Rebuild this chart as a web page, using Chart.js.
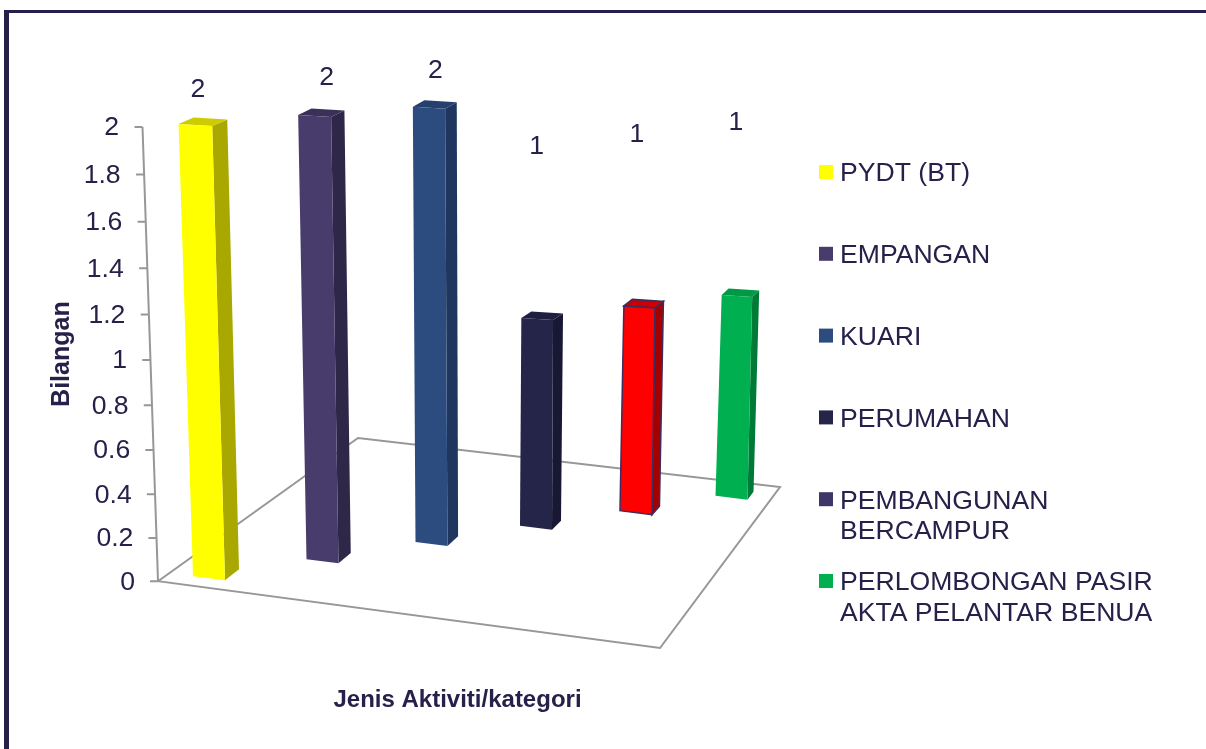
<!DOCTYPE html>
<html lang="en">
<head>
    <meta charset="UTF-8">
    <title>Jenis Aktiviti/kategori</title>
    <script src="https://cdnjs.cloudflare.com/ajax/libs/Chart.js/4.4.1/chart.umd.js"></script>
    <style>
        html, body { margin: 0; padding: 0; background: #fff; overflow: hidden; }
        #page { position: relative; width: 1206px; height: 749px; }
        #frame { position: absolute; left: 4px; top: 10px; right: 0; bottom: 0; border-left: 5px solid #24204a; border-top: 3px solid #24204a; }
        #chart-container { position: absolute; left: 0; top: 0; width: 1206px; height: 749px; }
    </style>
</head>
<body>
    <div id="page">
        <div id="frame"></div>
        <div id="chart-container"><canvas id="bars"></canvas></div>
    </div>

    <script>
        // values
        const categories = ['PYDT (BT)', 'EMPANGAN', 'KUARI', 'PERUMAHAN', 'PEMBANGUNAN BERCAMPUR', 'PERLOMBONGAN PASIR AKTA PELANTAR BENUA'];
        const values = [2, 2, 2, 1, 1, 1];
        // the 3D view lifts each bar off the zero line, so these are as drawn against the axis
        const barBottoms = [0.014, 0.092, 0.172, 0.247, 0.316, 0.384];
        const barTops = [2.008, 2.046, 2.08, 1.18, 1.233, 1.28];
        const yTicks = [0, 0.2, 0.4, 0.6, 0.8, 1, 1.2, 1.4, 1.6, 1.8, 2];

        const legendLines = [['PYDT (BT)'], ['EMPANGAN'], ['KUARI'], ['PERUMAHAN'], ['PEMBANGUNAN', 'BERCAMPUR'], ['PERLOMBONGAN PASIR', 'AKTA PELANTAR BENUA']];

        const frontColors = ['#ffff00', '#483c6c', '#2c4c80', '#25254a', '#ff0000', '#00b050'];
        const sideColors = ['#a8a800', '#2e2748', '#1f365e', '#181835', '#a50000', '#007a37'];
        const topColors = ['#cccc00', '#3a3058', '#253f6e', '#1f1f40', '#cc0000', '#009a45'];
        const legendColors = ['#ffff00', '#483c6c', '#2c4c80', '#25254a', '#3e3568', '#00b050'];

        const TEXT = '#25214a';
        const FLOOR = '#979797';
        const FONT = '"Liberation Sans", Arial, sans-serif';
        const SIZE = 26.6;

        // axis leans with the perspective of the original
        const axisX = v => 158 - 7.75 * v;
        const labelX = v => 135 - 8 * v;

        // y axis is slightly stretched towards the top
        class PerspectiveLinear extends Chart.LinearScale {
            getPixelForValue(v) {
                const t = v / 2;
                return this.bottom - this.height * (0.947 * t + 0.053 * t * t);
            }
            _computeLabelItems(area) {
                const items = super._computeLabelItems(area);
                items.forEach((item, i) => {
                    item.options.translation[0] = labelX(this.ticks[i].value);
                    item.options.translation[1] = this.getPixelForValue(this.ticks[i].value) + 1;
                });
                return items;
            }
        }
        PerspectiveLinear.id = 'perspectiveLinear';
        PerspectiveLinear.defaults = Chart.LinearScale.defaults;

        // categories get closer together going right
        class PerspectiveCategory extends Chart.CategoryScale {
            getPixelForValue(value) {
                const i = typeof value === 'number' ? value : this.parse(value);
                return 209 + 115.75 * i - 2.25 * i * i;
            }
        }
        PerspectiveCategory.id = 'perspectiveCategory';
        PerspectiveCategory.defaults = Chart.CategoryScale.defaults;

        Chart.register(PerspectiveLinear, PerspectiveCategory);

        function poly(ctx, pts, fill, stroke) {
            ctx.beginPath();
            pts.forEach((p, i) => i ? ctx.lineTo(p[0], p[1]) : ctx.moveTo(p[0], p[1]));
            ctx.closePath();
            ctx.fillStyle = fill;
            ctx.fill();
            if (stroke) {
                ctx.strokeStyle = stroke;
                ctx.lineWidth = 1.5;
                ctx.stroke();
            }
        }

        function barCorners(el) {
            const h = el.base - el.y;
            const lean = h * (el.x - 484) * 0.000109;
            const half = el.width / 2;
            const topHalf = half + (484 - el.x) * 0.003;
            const cx = el.x + lean;
            const dx = 15 - (el.x - 209) * 0.0153;
            const dyBottom = 11 - (el.x - 209) * 0.006;
            return {
                cx,
                tl: [cx - topHalf, el.y - 1],
                tr: [cx + topHalf, el.y + 1],
                bl: [el.x - half, el.base - 2],
                br: [el.x + half, el.base + 2],
                d: [dx, -6.5],
                dBottom: [dx - 1, -dyBottom]
            };
        }

        const add = (p, d) => [p[0] + d[0], p[1] + d[1]];

        // hand placed in the original, relative to the top of each bar
        const valueLabelDx = [2.5, 12, 6.5, -0.5, -2.5, -1];
        const valueLabelDy = [-35, -38, -37, -172, -172, -173];

        const scene3d = {
            id: 'scene3d',
            beforeDatasetsDraw(chart) {
                // floor and leaning axis
                const ctx = chart.ctx;
                const y = chart.scales.y;
                const zero = y.getPixelForValue(0);
                ctx.save();
                ctx.strokeStyle = FLOOR;
                ctx.lineWidth = 2;
                ctx.beginPath();
                ctx.moveTo(axisX(0), zero);
                ctx.lineTo(358, 438);
                ctx.lineTo(780, 487);
                ctx.lineTo(660, 648);
                ctx.closePath();
                ctx.stroke();
                ctx.beginPath();
                ctx.moveTo(axisX(0), zero);
                ctx.lineTo(axisX(2), y.getPixelForValue(2));
                yTicks.forEach(v => {
                    const py = y.getPixelForValue(v);
                    ctx.moveTo(axisX(v), py);
                    ctx.lineTo(axisX(v) - 8, py);
                });
                ctx.stroke();
                ctx.restore();
            },
            beforeDatasetDraw(chart, args) {
                const ctx = chart.ctx;
                ctx.save();
                args.meta.data.forEach((el, i) => {
                    const c = barCorners(el);
                    const outline = i === 4 ? '#3f2c5e' : null;
                    poly(ctx, [c.tr, add(c.tr, c.d), add(c.br, c.dBottom), c.br], sideColors[i], outline);
                    poly(ctx, [c.tl, add(c.tl, c.d), add(c.tr, c.d), c.tr], topColors[i], outline);
                    poly(ctx, [c.tl, c.tr, c.br, c.bl], frontColors[i], outline);
                });
                ctx.restore();
                return false;
            },
            afterDatasetsDraw(chart) {
                const ctx = chart.ctx;
                const meta = chart.getDatasetMeta(0);
                ctx.save();
                ctx.fillStyle = TEXT;
                ctx.font = SIZE + 'px ' + FONT;
                ctx.textAlign = 'center';
                ctx.textBaseline = 'middle';
                meta.data.forEach((el, i) => {
                    const c = barCorners(el);
                    ctx.fillText(String(values[i]), c.cx + valueLabelDx[i], el.y + valueLabelDy[i]);
                });
                ctx.restore();
            },
            afterDraw(chart) {
                // legend text wraps and rows keep an even step, so it is drawn here
                const ctx = chart.ctx;
                ctx.save();
                ctx.font = SIZE + 'px ' + FONT;
                ctx.textBaseline = 'middle';
                ctx.textAlign = 'left';
                legendLines.forEach((lines, i) => {
                    const rowY = 172 + 81.8 * i;
                    ctx.fillStyle = legendColors[i];
                    ctx.fillRect(819, rowY - 7, 14, 14);
                    ctx.fillStyle = TEXT;
                    lines.forEach((line, j) => ctx.fillText(line, 840, rowY + 2 + 30.5 * j));
                });
                ctx.restore();
            }
        };

        new Chart(document.getElementById('bars'), {
            type: 'bar',
            data: {
                labels: categories,
                datasets: [{
                    data: barBottoms.map((b, i) => [b, barTops[i]]),
                    backgroundColor: frontColors,
                    barThickness: 32
                }]
            },
            options: {
                responsive: true,
                maintainAspectRatio: false,
                animation: false,
                layout: { padding: { left: 47, right: 433, top: 127, bottom: 30 } },
                plugins: { legend: { display: false }, tooltip: { enabled: false } },
                scales: {
                    x: {
                        type: 'perspectiveCategory',
                        grid: { display: false },
                        border: { display: false },
                        ticks: { display: false },
                        title: {
                            display: true,
                            text: 'Jenis Aktiviti/kategori',
                            color: TEXT,
                            font: { family: FONT, size: 24, weight: 'bold' },
                            padding: { top: 97, bottom: 4 }
                        }
                    },
                    y: {
                        type: 'perspectiveLinear',
                        min: 0,
                        max: 2,
                        grid: { display: false },
                        border: { display: false },
                        afterFit(scale) { scale.width = 95; },
                        afterBuildTicks(scale) { scale.ticks = yTicks.map(value => ({ value })); },
                        ticks: {
                            color: TEXT,
                            autoSkip: false,
                            font: { family: FONT, size: SIZE },
                            callback: v => String(v)
                        },
                        title: {
                            display: true,
                            text: 'Bilangan',
                            color: TEXT,
                            font: { family: FONT, size: 25, weight: 'bold' },
                            padding: 0
                        }
                    }
                }
            },
            plugins: [scene3d]
        });
    </script>
</body>
</html>
